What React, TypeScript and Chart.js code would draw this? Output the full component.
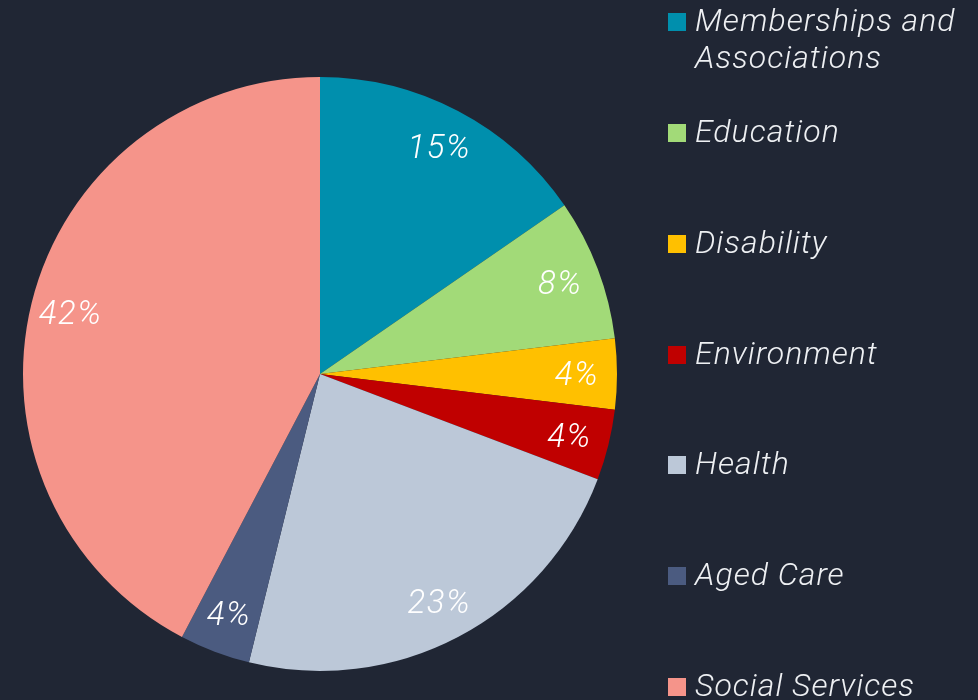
import React, { useEffect, useRef } from "react";
import { Chart, registerables } from "chart.js";

Chart.register(...registerables);

const categories = [
  "Memberships and Associations",
  "Education",
  "Disability",
  "Environment",
  "Health",
  "Aged Care",
  "Social Services",
];
const legendLines = [
  ["Memberships and", "Associations"],
  ["Education"],
  ["Disability"],
  ["Environment"],
  ["Health"],
  ["Aged Care"],
  ["Social Services"],
];
const counts = [4, 2, 1, 1, 6, 1, 11];
const colors = ["#008fad", "#a2da78", "#ffc000", "#c00000", "#bcc8d8", "#4b5b80", "#f5948a"];

const BG = "#202634";
const FONT = "Roboto, 'Open Sans', sans-serif";

const labelPlugin = {
  id: "sliceLabels",
  afterDatasetsDraw(chart: any) {
    const ctx = chart.ctx;
    const meta = chart.getDatasetMeta(0);
    const data = chart.data.datasets[0].data as number[];
    const total = data.reduce((a, b) => a + b, 0);
    ctx.save();
    ctx.fillStyle = "#ffffff";
    ctx.font = `italic 300 33px ${FONT}`;
    (ctx as any).letterSpacing = "1.5px";
    ctx.textAlign = "center";
    ctx.textBaseline = "middle";
    meta.data.forEach((arc: any, i: number) => {
      const mid = (arc.startAngle + arc.endAngle) / 2;
      const r = arc.outerRadius * 0.865;
      const x = arc.x + Math.cos(mid) * r;
      const y = arc.y + Math.sin(mid) * r + 3;
      ctx.fillText(Math.round((data[i] / total) * 100) + "%", x, y);
    });
    ctx.restore();
  },
};

export default function App() {
  const ref = useRef<HTMLCanvasElement>(null);
  useEffect(() => {
    document.body.style.margin = "0";
    document.body.style.background = BG;
    const chart = new Chart(ref.current!, {
      type: "pie",
      data: {
        labels: categories,
        datasets: [
          {
            data: counts,
            backgroundColor: colors,
            borderWidth: 0,
          },
        ],
      },
      options: {
        responsive: false,
        animation: false,
        layout: { padding: { left: 23, top: 77, right: 361, bottom: 29 } },
        plugins: { legend: { display: false }, tooltip: { enabled: false } },
      },
      plugins: [labelPlugin],
    });
    return () => chart.destroy();
  }, []);

  const tops = [2, 113, 224, 335, 445, 556, 667];
  return (
    <div style={{ position: "relative", width: 978, height: 700, background: BG, overflow: "hidden" }}>
      <canvas ref={ref} width={978} height={700} style={{ position: "absolute", left: 0, top: 0 }} />
      {categories.map((c, i) => (
        <div key={c} style={{ position: "absolute", left: 668, top: tops[i] }}>
          <div
            style={{
              position: "absolute",
              left: 0,
              top: 11,
              width: 18,
              height: 18,
              background: colors[i],
            }}
          />
          <div
            style={{
              position: "absolute",
              left: 27,
              top: 0,
              whiteSpace: "nowrap",
              fontFamily: FONT,
              fontStyle: "italic",
              fontWeight: 300,
              fontSize: 32,
              letterSpacing: "1px",
              lineHeight: "37px",
              color: "#eef0f3",
            }}
          >
            {legendLines[i].map((l, j) => (
              <div key={j}>{l}</div>
            ))}
          </div>
        </div>
      ))}
    </div>
  );
}
